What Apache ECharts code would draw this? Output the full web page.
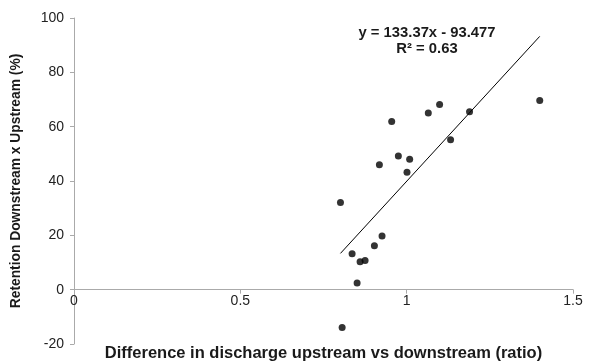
<!DOCTYPE html>
<html style="height: 100%">
   <head>
       <meta charset="utf-8">
   </head>
   <body style="height: 100%; margin: 0; background: #fff">
       <div id="container" style="width: 594px; height: 362px"></div>
       <script type="text/javascript" src="https://cdn.jsdelivr.net/npm/echarts@6/dist/echarts.min.js"></script>
       <script type="text/javascript">
// discharge ratio (x) and retention (%)
var ratio = [0.801, 0.806, 0.836, 0.851, 0.860, 0.875, 0.903, 0.918, 0.926, 0.955,
             0.975, 1.001, 1.009, 1.065, 1.099, 1.132, 1.189, 1.400];
var retention = [32.1, -13.9, 13.2, 2.5, 10.3, 10.7, 16.2, 46.0, 19.8, 61.9,
                 49.2, 43.2, 48.0, 65.0, 68.2, 55.2, 65.5, 69.6];

// linear trendline as printed on the chart
var slope = 133.37;
var intercept = -93.477;
var r2 = 0.63;

var xTicks = [0, 0.5, 1, 1.5];
var yTicks = [-20, 0, 20, 40, 60, 80, 100];

var dom = document.getElementById("container");
var myChart = echarts.init(dom);

var points = [];
for (var i = 0; i < ratio.length; i++) {
    points.push([ratio[i], retention[i]]);
}
var xMin = Math.min.apply(null, ratio);
var xMax = Math.max.apply(null, ratio);
var trend = [
    [xMin, slope * xMin + intercept],
    [xMax, slope * xMax + intercept]
];

var font = 'Liberation Sans, Arial, Helvetica, sans-serif';
var gridTop = 18, gridBottom = 18;
var yMin = yTicks[0], yMax = yTicks[yTicks.length - 1];
// x axis crosses at y = 0: shift it up from the bottom of the grid
var plotH = 362 - gridTop - gridBottom;
var xAxisShift = -plotH * (0 - yMin) / (yMax - yMin);

option = {
    animation: false,
    grid: { left: 74, right: 21, top: gridTop, bottom: gridBottom, outerBoundsMode: 'none', containLabel: false },
    xAxis: {
        type: 'value',
        min: xTicks[0],
        max: xTicks[xTicks.length - 1],
        interval: 0.5,
        offset: xAxisShift,
        name: 'Difference in discharge upstream vs downstream (ratio)',
        nameLocation: 'middle',
        nameGap: 55,
        nameTextStyle: { fontFamily: font, fontSize: 16.5, fontWeight: 'bold', color: '#1a1a1a' },
        axisLine: { onZero: false, lineStyle: { color: '#aaa', width: 1 } },
        axisTick: { show: true, length: 4, lineStyle: { color: '#aaa' } },
        axisLabel: { fontFamily: font, fontSize: 14, color: '#222', margin: 4,
            formatter: function (v) { return String(v); } },
        splitLine: { show: false }
    },
    yAxis: {
        type: 'value',
        min: yMin,
        max: yMax,
        interval: 20,
        name: 'Retention Downstream x Upstream (%)',
        nameLocation: 'middle',
        nameGap: 51,
        nameTextStyle: { fontFamily: font, fontSize: 13.8, fontWeight: 'bold', color: '#1a1a1a' },
        axisLine: { show: true, lineStyle: { color: '#aaa', width: 1 } },
        axisTick: { show: true, length: 4, lineStyle: { color: '#aaa' } },
        axisLabel: { fontFamily: font, fontSize: 14, color: '#222', margin: 10 },
        splitLine: { show: false }
    },
    graphic: [{
        type: 'text',
        x: 427,
        y: 25,
        style: {
            text: 'y = ' + slope + 'x - ' + Math.abs(intercept) + '\nR\u00b2 = ' + r2,
            fill: '#1a1a1a',
            font: 'bold 14.8px ' + font,
            align: 'center',
            verticalAlign: 'top',
            lineHeight: 16
        }
    }],
    series: [
        {
            type: 'scatter',
            data: points,
            symbol: 'circle',
            symbolSize: 7,
            itemStyle: { color: '#000' }
        },
        {
            type: 'line',
            data: trend,
            symbol: 'none',
            lineStyle: { color: '#000', width: 1 },
            z: 1
        }
    ]
};

if (option && typeof option === "object") {
    myChart.setOption(option, true);
}
       </script>
   </body>
</html>
